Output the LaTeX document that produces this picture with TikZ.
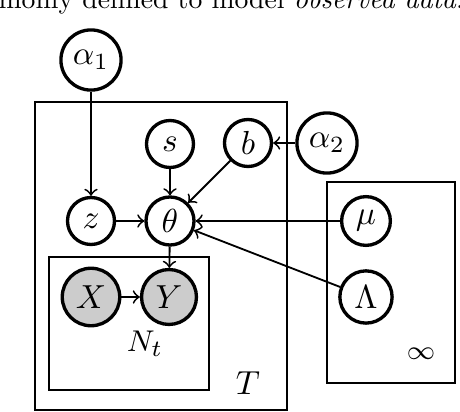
\documentclass[tikz,border=0pt]{standalone}
\usepackage{fontspec}
\definecolor{obsgray}{HTML}{CCCCCC}
\begin{document}
\begin{tikzpicture}[x=0.3pt,y=-0.3pt,
  var/.style={circle,draw,line width=1.0pt,minimum size=14.1pt,inner sep=2.1pt,fill=white},
  obs/.style={var,fill=obsgray},
  plate/.style={draw,line width=0.8pt},
  edge/.style={->,line width=0.55pt}]
\useasboundingbox (0,0) rectangle (460,412);
% cut caption text at top
\node[anchor=base west,inner sep=0pt] (cap) at (-2,8) {\scalebox{0.83}{monly defined to model \emph{observed data}.}};
% plates
\draw[plate] (35,102) rectangle (287,410);
\draw[plate] (49,257) rectangle (209,390);
\draw[plate] (327,182) rectangle (455,383);
% nodes
\node[var] (a1) at (91,60) {$\alpha_1$};
\node[var] (s) at (170,144) {$s$};
\node[var] (b) at (248,143) {$b$};
\node[var] (a2) at (327,143) {$\alpha_2$};
\node[var] (z) at (91,221) {$z$};
\node[var] (th) at (170,221) {$\theta$};
\node[var] (mu) at (366,221) {$\mu$};
\node[var] (La) at (366,297) {$\Lambda$};
\node[obs] (X) at (91,297) {$X$};
\node[obs] (Y) at (169,297) {$Y$};
% labels
\node[anchor=base,inner sep=0pt,font=\fontsize{9.5}{11}\selectfont] (Nl) at (145,352) {$N_t$};
\node[anchor=base,inner sep=0pt] (Tl) at (248,395) {$T$};
\node[inner sep=0pt,font=\fontsize{8.5}{10}\selectfont] (inf) at (421,354) {$\infty$};
% edges
\draw[edge] (a1) -- (z);
\draw[edge] (s) -- (th);
\draw[edge] (b) -- (th);
\draw[edge] (z) -- (th);
\draw[edge] (a2) -- (b);
\draw[edge] (mu) -- (th);
\draw[edge] (La) -- (th);
\draw[edge] (th) -- (Y);
\draw[edge] (X) -- (Y);
\end{tikzpicture}
\end{document}
